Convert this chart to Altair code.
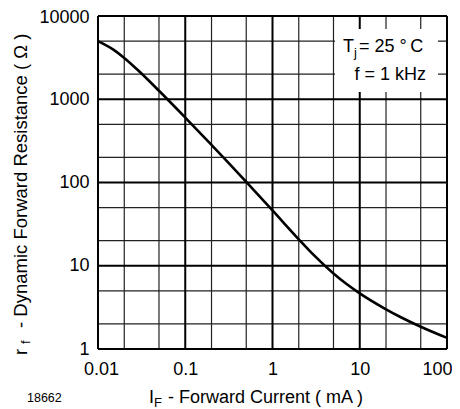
import altair as alt
import pandas as pd

# Data
current_mA = [0.01, 0.015, 0.02, 0.03, 0.05, 0.1, 0.2, 0.3, 0.5, 1, 2, 3, 5, 7, 10, 20, 30, 50, 100]
resistance_ohm = [5000, 3950, 3140, 2140, 1265, 603, 283, 181, 102, 46.2, 20.8, 13.3, 8.07, 6.07,
                  4.66, 3.0, 2.39, 1.85, 1.36]

x_major = [0.01, 0.1, 1, 10, 100]
x_minor = [0.02, 0.05, 0.2, 0.5, 2, 5, 20, 50]
y_major = [1, 10, 100, 1000, 10000]
y_minor = [2, 5, 20, 50, 200, 500, 2000, 5000]

W, H = 349, 333
FONT = "Liberation Sans"

xs = alt.Scale(type="log", domain=[0.01, 100], nice=False)
ys = alt.Scale(type="log", domain=[1, 10000], nice=False)

x_axis = alt.Axis(
    values=x_major, format="~g", title=None, grid=False, ticks=False,
    domain=False, labelFont=FONT, labelFontSize=18, labelPadding=11,
    labelColor="black", labelFlush=False, labelOverlap=False,
    labelOffset={"condition": [{"test": "datum.value >= 100", "value": -10},
                               {"test": "datum.value <= 0.01", "value": 3}],
                 "value": 0})
y_axis = alt.Axis(
    values=y_major, format="~g", title=None, grid=False, ticks=False,
    domain=False, labelFont=FONT, labelFontSize=18, labelPadding=9,
    labelColor="black", labelFlush=False, labelOverlap=False,
    labelOffset={"condition": {"test": "datum.value >= 10000", "value": 1.5},
                 "value": 0})


def vrules(vals, width, color):
    return alt.Chart(pd.DataFrame({"v": vals})).mark_rule(
        color=color, strokeWidth=width
    ).encode(x=alt.X("v:Q", scale=xs, axis=x_axis))


def hrules(vals, width, color):
    return alt.Chart(pd.DataFrame({"h": vals})).mark_rule(
        color=color, strokeWidth=width
    ).encode(y=alt.Y("h:Q", scale=ys, axis=y_axis))


def txt(s, x, y, size=18, angle=0, align="left", baseline="alphabetic"):
    return alt.Chart(pd.DataFrame({"t": [s]})).mark_text(
        align=align, baseline=baseline, fontSize=size, angle=angle,
        font=FONT, color="black"
    ).encode(text=alt.Text("t:N"), x=alt.value(x), y=alt.value(y))


box = alt.Chart(pd.DataFrame({"a": [0]})).mark_rect(color="white").encode(
    x=alt.value(237), x2=alt.value(340), y=alt.value(13), y2=alt.value(76)
)

curve = alt.Chart(pd.DataFrame({"I": current_mA, "r": resistance_ohm})).mark_line(
    color="black", strokeWidth=2.6, interpolate="monotone"
).encode(
    x=alt.X("I:Q", scale=xs, axis=x_axis),
    y=alt.Y("r:Q", scale=ys, axis=y_axis),
)

texts = [
    # annotation box
    txt("T", 245, 36),
    txt("j", 256, 41, size=13),
    txt("= 25 °\u2009C", 261, 36),
    txt("f = 1 kHz", 328, 64, align="right"),
    # x title
    txt("I", 51, 387),
    txt("F", 56, 391, size=13),
    txt("- Forward Current ( mA )", 70, 387),
    # y title (rotated)
    txt("r", -71, 339, angle=270, size=18.5),
    txt("f", -68, 328, angle=270, size=13),
    txt("- Dynamic Forward Resistance ( Ω )", -71, 312, angle=270, size=18.5),
    # figure number
    txt("18662", -71, 386, size=12.5),
]

chart = alt.layer(
    vrules(x_minor, 1.2, "#222"),
    hrules(y_minor, 1.2, "#222"),
    vrules(x_major, 2, "black"),
    hrules(y_major, 2, "black"),
    box,
    curve,
    *texts,
).properties(
    width=W, height=H,
    autosize=alt.AutoSizeParams(type="none"),
    padding={"left": 90, "top": 8, "right": 5, "bottom": 60},
).configure_view(strokeWidth=0)

chart.save("out.html", embed_options={"renderer": "svg", "actions": False})
